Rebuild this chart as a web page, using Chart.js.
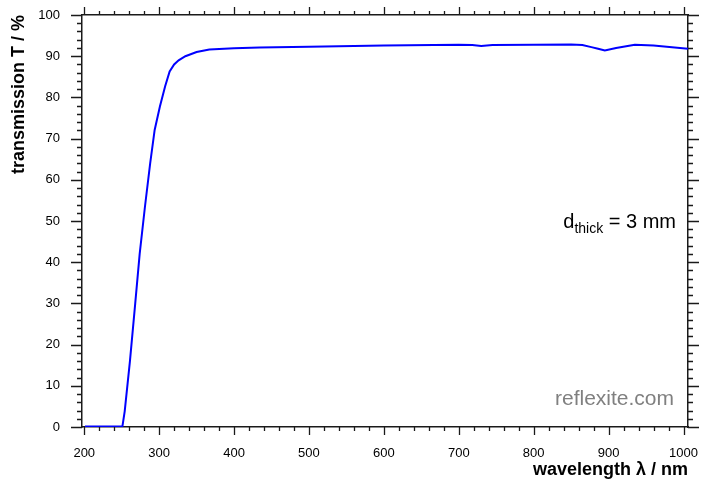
<!DOCTYPE html>
<html>
<head>
<meta charset="utf-8">
<script src="https://cdn.jsdelivr.net/npm/chart.js@4"></script>
<style>
  html, body { margin: 0; padding: 0; background: #fff; }
  #wrap { width: 702px; height: 481px; }
</style>
</head>
<body>
<div id="wrap"><canvas id="chart" width="702" height="481"></canvas></div>
<script>
// spectrum
const wavelength = [201, 251, 254, 261, 268, 274, 281, 288, 294, 301, 308, 314, 320, 326, 335, 350, 367, 400, 434, 500, 600, 700, 718, 730, 745, 800, 850, 865, 877, 886, 895, 910, 935, 960, 1006];
const transmission = [0.1, 0.2, 3.8, 16, 29.9, 42, 53.4, 64, 72.1, 77.8, 82.7, 86.3, 88.0, 89.0, 90.0, 91.0, 91.6, 91.9, 92.1, 92.3, 92.6, 92.8, 92.7, 92.5, 92.7, 92.8, 92.85, 92.7, 92.2, 91.8, 91.4, 92.0, 92.8, 92.6, 91.8];

const xTicks = [200, 300, 400, 500, 600, 700, 800, 900, 1000];
const yTicks = [0, 10, 20, 30, 40, 50, 60, 70, 80, 90, 100];

const FONT = 'Arial, "Liberation Sans", Helvetica, sans-serif';
const AXIS = '#1a1a1a';

// keep the plot box where the reference has it
function fixBox(size, horizontal) {
    return s => {
        if (horizontal) s.height = size; else s.width = size;
        s.paddingLeft = 0; s.paddingRight = 0;
        s.paddingTop = 0; s.paddingBottom = 0;
    };
}

// minor/major tick marks on all four sides + annotations
const tickMarks = {
    id: 'tickMarks',
    afterDraw(chart) {
        const ctx = chart.ctx;
        const a = chart.chartArea;
        const x = chart.scales.x, y = chart.scales.y;
        ctx.save();
        ctx.strokeStyle = AXIS;
        ctx.lineWidth = 1.3;
        ctx.beginPath();
        for (let v = 200; v <= 1000; v += 20) {
            const px = Math.round(x.getPixelForValue(v)) + 0.5;
            const len = v % 100 === 0 ? 8 : 4;
            ctx.moveTo(px, a.bottom); ctx.lineTo(px, a.bottom + len);
            ctx.moveTo(px, a.top); ctx.lineTo(px, a.top - len);
        }
        for (let v = 0; v <= 100; v += 2) {
            const py = Math.round(y.getPixelForValue(v)) + 0.5;
            const len = v % 10 === 0 ? 11 : 5;
            ctx.moveTo(a.left, py); ctx.lineTo(a.left - len, py);
            ctx.moveTo(a.right, py); ctx.lineTo(a.right + len, py);
        }
        ctx.stroke();

        ctx.fillStyle = '#000';
        ctx.textBaseline = 'alphabetic';
        ctx.textAlign = 'left';
        const main = ' = 3 mm';
        ctx.font = '14px ' + FONT;
        const subW = ctx.measureText('thick').width;
        ctx.font = '20px ' + FONT;
        const dW = ctx.measureText('d').width;
        const mW = ctx.measureText(main).width;
        const sx = a.right - 12 - (dW + subW + mW);
        const by = 228;
        ctx.fillText('d', sx, by);
        ctx.font = '14px ' + FONT;
        ctx.fillText('thick', sx + dW, by + 5);
        ctx.font = '20px ' + FONT;
        ctx.fillText(main, sx + dW + subW, by);

        ctx.fillStyle = '#808080';
        ctx.textAlign = 'right';
        ctx.font = '21px ' + FONT;
        ctx.fillText('reflexite.com', a.right - 14, 405);
        ctx.restore();
    }
};

new Chart(document.getElementById('chart'), {
    type: 'line',
    data: {
        datasets: [{
            data: wavelength.map((w, i) => ({ x: w, y: transmission[i] })),
            borderColor: '#0000ff',
            borderWidth: 2,
            pointRadius: 0,
            tension: 0,
            fill: false
        }]
    },
    options: {
        responsive: false,
        animation: false,
        layout: { padding: { left: 8, right: 0, top: 0, bottom: 0 } },
        plugins: { legend: { display: false }, tooltip: { enabled: false } },
        scales: {
            x: {
                type: 'linear',
                position: 'bottom',
                min: 197,
                max: 1006,
                afterBuildTicks: s => { s.ticks = xTicks.map(v => ({ value: v })); },
                afterFit: fixBox(54, true),
                grid: { display: false, drawTicks: false },
                border: { display: true, color: AXIS, width: 1.5 },
                ticks: { color: '#000', font: { family: FONT, size: 13 }, padding: 19, maxRotation: 0,
                         callback: v => String(v) },
                title: {
                    display: true,
                    text: 'wavelength λ / nm',
                    align: 'end',
                    color: '#000',
                    font: { family: FONT, size: 18, weight: 'bold' },
                    padding: 0
                }
            },
            x2: {
                type: 'linear',
                position: 'top',
                min: 197,
                max: 1006,
                afterFit: fixBox(15, true),
                grid: { display: false, drawTicks: false },
                border: { display: true, color: AXIS, width: 1.5 },
                ticks: { display: false }
            },
            y: {
                min: 0,
                max: 100,
                afterBuildTicks: s => { s.ticks = yTicks.map(v => ({ value: v })); },
                afterFit: fixBox(74, false),
                grid: { display: false, drawTicks: false },
                border: { display: true, color: AXIS, width: 1.5 },
                ticks: { color: '#000', font: { family: FONT, size: 13 }, padding: 22 },
                title: {
                    display: true,
                    text: 'transmission T / %',
                    align: 'end',
                    color: '#000',
                    font: { family: FONT, size: 18, weight: 'bold' },
                    padding: 0
                }
            },
            y2: {
                position: 'right',
                min: 0,
                max: 100,
                afterFit: fixBox(14, false),
                grid: { display: false, drawTicks: false },
                border: { display: true, color: AXIS, width: 1.5 },
                ticks: { display: false }
            }
        }
    },
    plugins: [tickMarks]
});
</script>
</body>
</html>
